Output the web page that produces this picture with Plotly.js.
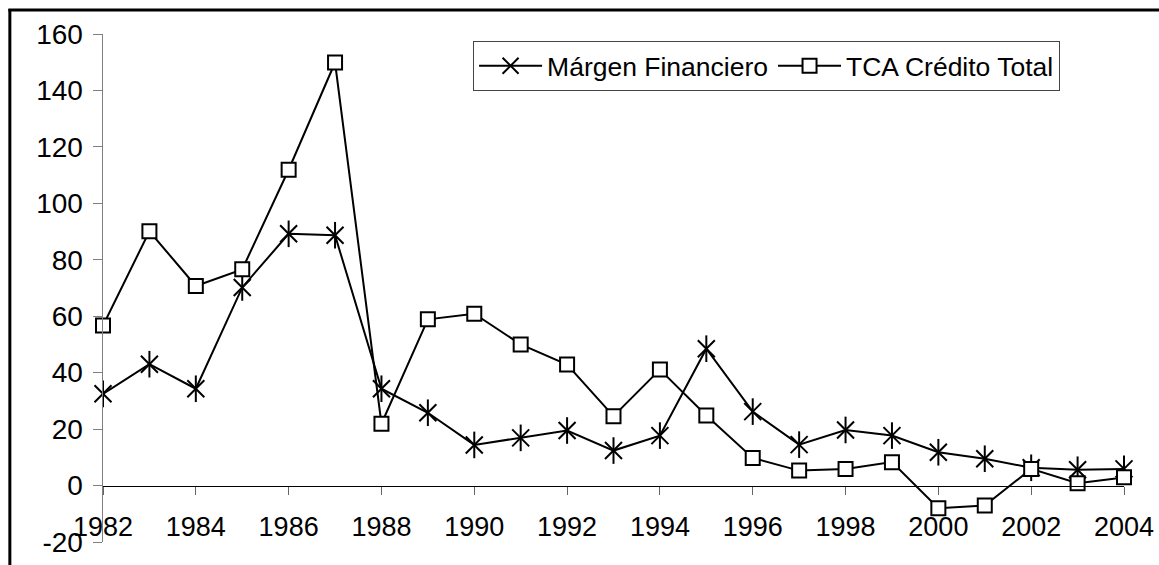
<!DOCTYPE html>
<html>
<head>
<meta charset="utf-8">
<script src="https://cdn.plot.ly/plotly-3.0.1.min.js"></script>
<style>html,body{margin:0;padding:0;background:#fff;}#chart{width:1159px;height:565px;}</style>
</head>
<body>
<div id="chart"></div>
<script>
const years = [1982,1983,1984,1985,1986,1987,1988,1989,1990,1991,1992,1993,1994,1995,1996,1997,1998,1999,2000,2001,2002,2003,2004];
const margenFinanciero = [32.5,43,34.3,70.2,89.2,88.7,34.3,25.8,14.4,16.9,19.5,12.4,17.7,48.5,26.2,14.5,19.7,17.7,11.8,9.5,6.3,5.6,5.9];
const tcaCreditoTotal = [56.7,90.1,70.7,76.6,111.9,149.9,21.9,58.9,60.9,50,42.9,24.6,41.1,24.8,9.8,5.3,5.9,8.3,-8.0,-7.1,5.9,0.8,2.9];
const seriesNames = ['Márgen Financiero', 'TCA Crédito Total'];
const xTicks = [1982,1984,1986,1988,1990,1992,1994,1996,1998,2000,2002,2004];
const yTicks = [-20,0,20,40,60,80,100,120,140,160];

const W = 1159, H = 565;
const mL = 102.7, mR = 34.7, mT = 34, mB = 23.3;
const pw = W - mL - mR, ph = H - mT - mB;
const px2x = p => (p - mL) / pw;
const py2y = p => (H - mB - p) / ph;

const font = 'Liberation Sans, Arial, sans-serif';

const traces = [
  {
    x: years, y: margenFinanciero, name: seriesNames[0], type: 'scatter', mode: 'lines+markers',
    line: {color: '#000', width: 2},
    marker: {symbol: 'x-thin-open', size: 17, color: '#000', line: {color: '#000', width: 2}},
    cliponaxis: false
  },
  {
    x: years, y: margenFinanciero, name: seriesNames[0], type: 'scatter', mode: 'markers',
    showlegend: false,
    marker: {symbol: 'line-ns-open', size: 19, color: '#000', line: {color: '#000', width: 2}},
    cliponaxis: false
  },
  {
    x: years, y: tcaCreditoTotal, name: seriesNames[1], type: 'scatter', mode: 'lines+markers',
    line: {color: '#000', width: 2},
    marker: {symbol: 'square', size: 14, color: '#fff', line: {color: '#000', width: 2}},
    cliponaxis: false
  }
];

const layout = {
  width: W, height: H,
  margin: {l: mL, r: mR, t: mT, b: mB, pad: 0},
  paper_bgcolor: '#fff', plot_bgcolor: 'rgba(0,0,0,0)',
  font: {family: font, size: 27, color: '#000'},
  showlegend: true,
  legend: {
    orientation: 'h', x: px2x(473), y: py2y(41), xanchor: 'left', yanchor: 'top',
    bgcolor: '#fff', bordercolor: '#444', borderwidth: 1,
    font: {family: font, size: 26.5, color: '#000'},
    itemwidth: 63, tracegroupgap: 0
  },
  xaxis: {
    range: [1982, 2004], tickvals: xTicks, ticktext: xTicks.map(String),
    anchor: 'free', position: 20/180,
    showline: true, linecolor: '#000', linewidth: 1,
    ticks: 'outside', ticklen: 8, tickcolor: '#666', tickwidth: 1,
    showgrid: false, zeroline: false,
    tickfont: {family: font, size: 27, color: '#000'},
    ticklabelstandoff: 9
  },
  yaxis: {
    range: [-20, 160], tickvals: yTicks, ticktext: yTicks.map(String),
    showline: true, linecolor: '#808080', linewidth: 1.5,
    ticks: 'outside', ticklen: 9, tickcolor: '#808080', tickwidth: 1,
    showgrid: false, zeroline: false,
    tickfont: {family: font, size: 28, color: '#000'},
    ticklabelstandoff: 4
  },
  shapes: [
    {type: 'line', xref: 'paper', yref: 'paper', x0: px2x(9.5), x1: px2x(9.5), y0: py2y(9), y1: py2y(570), line: {color: '#000', width: 3}},
    {type: 'line', xref: 'paper', yref: 'paper', x0: px2x(8), x1: px2x(1165), y0: py2y(10), y1: py2y(10), line: {color: '#000', width: 3}}
  ]
};

Plotly.newPlot('chart', traces, layout, {staticPlot: true, displayModeBar: false});
</script>
</body>
</html>
